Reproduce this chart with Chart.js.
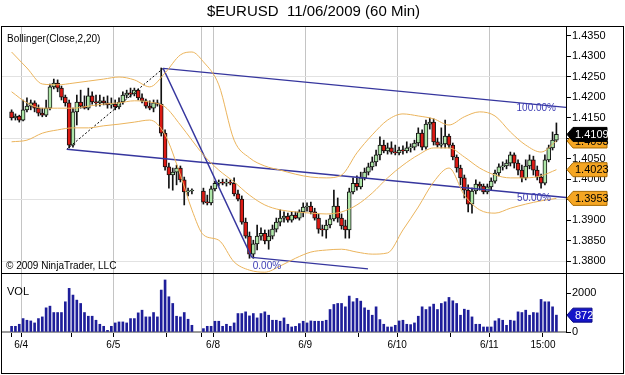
<!DOCTYPE html>
<html>
<head>
<meta charset="utf-8">
<title>$EURUSD 11/06/2009 (60 Min)</title>
<script src="https://cdn.jsdelivr.net/npm/chart.js@4.4.0/dist/chart.umd.min.js"></script>
<style>
  html, body { margin: 0; padding: 0; background: #fff; }
  #wrap { position: relative; width: 625px; height: 375px; overflow: hidden; }
  #price-box { position: absolute; left: 0; top: 0; width: 625px; height: 274px; }
  #vol-box { position: absolute; left: 0; top: 274px; width: 625px; height: 101px; }
  #frame { position: absolute; left: 1px; top: 26px; width: 621px; height: 346px; border: 1px solid #000; pointer-events: none; }
  #divider { position: absolute; left: 1px; top: 273px; width: 623px; height: 1px; background: #000; pointer-events: none; }
</style>
</head>
<body>
<div id="wrap">
  <div id="price-box"><canvas id="price-chart"></canvas></div>
  <div id="vol-box"><canvas id="vol-chart"></canvas></div>
  <div id="frame"></div>
  <div id="divider"></div>
</div>
<script>
// $EURUSD 60 min bars, 6/3 22:00 to 6/11 18:00
// one slot per hour, the first bar sits in slot 2, weekend gap = null

const firstSlot = 2;

const opens = [
  1.4164, 1.4149, 1.4154, 1.4144, 1.4169, 1.4178, 1.4186, 1.4173, 1.4161, 1.4156,
  1.4173, 1.4225, 1.4234, 1.4222, 1.4200, 1.4186, 1.4083, 1.4164, 1.4188, 1.4178,
  1.4173, 1.4203, 1.4188, 1.4186, 1.4191, 1.4186, 1.4181, 1.4183, 1.4176, 1.4188,
  1.4205, 1.4210, 1.4208, 1.4217, 1.4198, 1.4191, 1.4178, 1.4173, 1.4186, 1.4183,
  1.4112, 1.4030, 1.4010, 1.4017, 1.4027, 1.3998, 1.3969, 1.3971, null, null,
  1.3971, 1.3944, 1.3942, 1.3976, 1.3990, 1.3993, 1.3990, 1.3993, 1.3990, 1.3964,
  1.3951, 1.3895, 1.3861, 1.3817, 1.3842, 1.3861, 1.3868, 1.3849, 1.3861, 1.3878,
  1.3895, 1.3905, 1.3910, 1.3900, 1.3912, 1.3905, 1.3920, 1.3932, 1.3934, 1.3920,
  1.3905, 1.3878, 1.3876, 1.3888, 1.3903, 1.3934, 1.3905, 1.3886, 1.3876, 1.3969,
  1.3990, 1.3981, 1.4003, 1.4017, 1.4030, 1.4042, 1.4059, 1.4083, 1.4069, 1.4076,
  1.4066, 1.4064, 1.4071, 1.4069, 1.4076, 1.4078, 1.4088, 1.4112, 1.4078, 1.4134,
  1.4139, 1.4091, 1.4083, 1.4086, 1.4105, 1.4083, 1.4054, 1.4027, 1.4003, 1.3973,
  1.3939, 1.3971, 1.3988, 1.3983, 1.3969, 1.3981, 1.3995, 1.4015, 1.4030, 1.4032,
  1.4039, 1.4059, 1.4039, 1.4022, 1.4003, 1.4032, 1.4047, 1.4022, 1.4005, 1.3990,
  1.4047, 1.4076, 1.4095
];
const highs = [
  1.4169, 1.4159, 1.4156, 1.4193, 1.4198, 1.4193, 1.4191, 1.4181, 1.4173, 1.4193,
  1.4232, 1.4244, 1.4242, 1.4227, 1.4205, 1.4193, 1.4173, 1.4205, 1.4217, 1.4203,
  1.4222, 1.4213, 1.4205, 1.4205, 1.4200, 1.4203, 1.4198, 1.4193, 1.4198, 1.4213,
  1.4217, 1.4222, 1.4222, 1.4220, 1.4208, 1.4195, 1.4191, 1.4193, 1.4193, 1.4271,
  1.4120, 1.4039, 1.4027, 1.4034, 1.4032, 1.4005, 1.3978, 1.3976, null, null,
  1.3978, 1.3961, 1.3983, 1.3995, 1.3998, 1.4000, 1.4000, 1.3998, 1.4003, 1.3973,
  1.3959, 1.3905, 1.3871, 1.3851, 1.3888, 1.3881, 1.3876, 1.3876, 1.3888, 1.3905,
  1.3925, 1.3920, 1.3917, 1.3920, 1.3920, 1.3925, 1.3942, 1.3942, 1.3944, 1.3929,
  1.3915, 1.3888, 1.3900, 1.3912, 1.3973, 1.3954, 1.3915, 1.3900, 1.3978, 1.4003,
  1.4008, 1.4017, 1.4027, 1.4039, 1.4054, 1.4071, 1.4103, 1.4095, 1.4088, 1.4091,
  1.4083, 1.4078, 1.4081, 1.4091, 1.4086, 1.4095, 1.4125, 1.4120, 1.4144, 1.4149,
  1.4147, 1.4100, 1.4125, 1.4144, 1.4110, 1.4088, 1.4059, 1.4034, 1.4010, 1.3986,
  1.3978, 1.3998, 1.3993, 1.3988, 1.3988, 1.4003, 1.4022, 1.4037, 1.4042, 1.4047,
  1.4066, 1.4064, 1.4047, 1.4034, 1.4047, 1.4059, 1.4056, 1.4032, 1.4012, 1.4059,
  1.4083, 1.4115, 1.4137
];
const lows = [
  1.4144, 1.4144, 1.4139, 1.4142, 1.4164, 1.4169, 1.4164, 1.4154, 1.4152, 1.4152,
  1.4169, 1.4220, 1.4213, 1.4193, 1.4178, 1.4076, 1.4078, 1.4132, 1.4173, 1.4171,
  1.4169, 1.4183, 1.4178, 1.4178, 1.4181, 1.4173, 1.4173, 1.4169, 1.4171, 1.4183,
  1.4198, 1.4200, 1.4203, 1.4193, 1.4186, 1.4173, 1.4169, 1.4164, 1.4178, 1.4105,
  1.4022, 1.3978, 1.3973, 1.3986, 1.3993, 1.3937, 1.3959, 1.3964, null, null,
  1.3939, 1.3937, 1.3937, 1.3971, 1.3983, 1.3986, 1.3983, 1.3986, 1.3959, 1.3947,
  1.3890, 1.3856, 1.3807, 1.3807, 1.3827, 1.3851, 1.3842, 1.3829, 1.3854, 1.3871,
  1.3886, 1.3895, 1.3895, 1.3895, 1.3903, 1.3900, 1.3908, 1.3922, 1.3915, 1.3900,
  1.3868, 1.3861, 1.3856, 1.3881, 1.3898, 1.3895, 1.3878, 1.3856, 1.3856, 1.3964,
  1.3973, 1.3976, 1.3998, 1.4010, 1.4022, 1.4032, 1.4047, 1.4064, 1.4061, 1.4061,
  1.4059, 1.4059, 1.4061, 1.4064, 1.4066, 1.4071, 1.4081, 1.4071, 1.4073, 1.4122,
  1.4083, 1.4078, 1.4076, 1.4076, 1.4076, 1.4047, 1.4017, 1.3986, 1.3954, 1.3920,
  1.3917, 1.3964, 1.3973, 1.3964, 1.3964, 1.3973, 1.3990, 1.4008, 1.4022, 1.4025,
  1.4032, 1.4027, 1.4010, 1.3993, 1.3998, 1.4025, 1.4010, 1.3998, 1.3978, 1.3986,
  1.4042, 1.4071, 1.4091
];
const closes = [
  1.4149, 1.4154, 1.4144, 1.4169, 1.4178, 1.4186, 1.4173, 1.4161, 1.4156, 1.4173,
  1.4225, 1.4234, 1.4222, 1.4200, 1.4186, 1.4083, 1.4164, 1.4188, 1.4178, 1.4173,
  1.4203, 1.4188, 1.4186, 1.4191, 1.4186, 1.4181, 1.4183, 1.4176, 1.4188, 1.4205,
  1.4210, 1.4208, 1.4217, 1.4198, 1.4191, 1.4178, 1.4173, 1.4186, 1.4183, 1.4112,
  1.4030, 1.4010, 1.4017, 1.4027, 1.3998, 1.3969, 1.3971, 1.3971, null, null,
  1.3944, 1.3942, 1.3976, 1.3990, 1.3993, 1.3990, 1.3993, 1.3990, 1.3964, 1.3951,
  1.3895, 1.3861, 1.3817, 1.3842, 1.3861, 1.3868, 1.3849, 1.3861, 1.3878, 1.3895,
  1.3905, 1.3910, 1.3900, 1.3912, 1.3905, 1.3920, 1.3932, 1.3934, 1.3920, 1.3905,
  1.3878, 1.3876, 1.3888, 1.3903, 1.3934, 1.3905, 1.3886, 1.3876, 1.3969, 1.3990,
  1.3981, 1.4003, 1.4017, 1.4030, 1.4042, 1.4059, 1.4083, 1.4069, 1.4076, 1.4066,
  1.4064, 1.4071, 1.4069, 1.4076, 1.4078, 1.4088, 1.4112, 1.4078, 1.4134, 1.4139,
  1.4091, 1.4083, 1.4086, 1.4105, 1.4083, 1.4054, 1.4027, 1.4003, 1.3973, 1.3939,
  1.3971, 1.3988, 1.3983, 1.3969, 1.3981, 1.3995, 1.4015, 1.4030, 1.4032, 1.4039,
  1.4059, 1.4039, 1.4022, 1.4003, 1.4032, 1.4047, 1.4022, 1.4005, 1.3990, 1.4047,
  1.4076, 1.4095, 1.4109
];
const volumes = [
  295, 295, 400, 694, 608, 573, 469, 694, 781, 1250,
  1337, 1007, 1007, 1007, 1562, 2257, 1910, 1649, 1476, 1007,
  816, 816, 608, 400, 295, 87, 295, 469, 521, 521,
  469, 694, 694, 990, 1128, 781, 781, 1007, 781, 2170,
  2691, 1823, 1476, 816, 781, 1007, 660, 347, null, null,
  174, 295, 295, 556, 556, 295, 400, 295, 469, 955,
  955, 1042, 833, 955, 729, 955, 1042, 868, 608, 608,
  556, 729, 400, 260, 295, 434, 556, 469, 573, 556,
  556, 556, 608, 1163, 1424, 1476, 1476, 1302, 1858, 1562,
  1736, 1597, 1250, 1128, 868, 1302, 642, 400, 260, 260,
  347, 573, 608, 400, 382, 469, 816, 1302, 1163, 1302,
  1441, 1163, 1476, 1562, 1788, 1614, 1476, 868, 1180, 1128,
  781, 400, 400, 260, 260, 260, 573, 694, 608, 347,
  608, 573, 1042, 1007, 1128, 868, 1007, 990, 1684, 1562,
  1562, 1302, 872
];

// Bollinger(Close,2,20) every few slots
const bandSlots = [2, 6, 10, 14, 18, 22, 26, 30, 34, 38, 42, 46, 49, 52, 56, 60, 64, 68, 72,
  76, 80, 84, 88, 92, 96, 100, 104, 108, 112, 116, 120, 124, 128, 132, 136, 140, 144];
const upperBand = [1.4310, 1.4271, 1.4232, 1.4230, 1.4234, 1.4239, 1.4244, 1.4249, 1.4242, 1.4225,
  1.4259, 1.4303, 1.4310, 1.4286, 1.4230, 1.4095, 1.4052, 1.4032, 1.4022, 1.4012,
  1.4005, 1.4003, 1.4010, 1.4064, 1.4108, 1.4144, 1.4159, 1.4154, 1.4147, 1.4132,
  1.4152, 1.4164, 1.4154, 1.4115, 1.4083, 1.4066, 1.4093];
const middleBand = [1.4213, 1.4186, 1.4173, 1.4173, 1.4173, 1.4178, 1.4183, 1.4186, 1.4191, 1.4188,
  1.4176, 1.4132, 1.4095, 1.4059, 1.4022, 1.3993, 1.3961, 1.3937, 1.3925, 1.3920,
  1.3917, 1.3915, 1.3920, 1.3937, 1.3966, 1.4003, 1.4034, 1.4059, 1.4076, 1.4076,
  1.4054, 1.4027, 1.4010, 1.4003, 1.4003, 1.4008, 1.4023];
const lowerBand = [1.4091, 1.4095, 1.4112, 1.4120, 1.4125, 1.4125, 1.4130, 1.4134, 1.4139, 1.4144,
  1.4108, 1.4010, 1.3925, 1.3864, 1.3851, 1.3798, 1.3778, 1.3773, 1.3788, 1.3807,
  1.3822, 1.3827, 1.3829, 1.3822, 1.3817, 1.3820, 1.3876, 1.3932, 1.3993, 1.4027,
  1.3961, 1.3925, 1.3917, 1.3929, 1.3939, 1.3947, 1.3953];

// trend channel drawn on the chart: [slot, price] end points
const fork100 = [[41.5, 1.4270], [146.5, 1.4175]];
const fork50 = [[16.4, 1.4073], [146.5, 1.3955]];
const fork0 = [[64.6, 1.3809], [94.9, 1.3781]];
const forkHandle = [[41.5, 1.4270], [64.6, 1.3809]];
const forkStem = [[16.4, 1.4073], [41.5, 1.4270]];

// axis ticks
const priceTicks = [1.380, 1.385, 1.390, 1.395, 1.400, 1.405, 1.410, 1.415, 1.420, 1.425, 1.430, 1.435];
const priceGrid = [1.380, 1.395, 1.410, 1.425];
const volumeTicks = [0, 2000];
const timeTickSlots = [2, 4.5, 17.5, 28.5, 42.5, 51.5, 54.5, 68.5, 78.5, 92.5, 102.5, 116.5, 126.5, 140.5];
const timeTickLabels = ['', '6/4', '', '6/5', '', '', '6/8', '', '6/9', '', '6/10', '', '6/11', '15:00'];
const dayLineSlots = [4.5, 28.5, 51.5, 54.5, 78.5, 102.5, 126.5];

// colours
const upFill = '#aee6a8';
const downFill = '#dc1a14';
const bandColor = '#ebb45c';
const forkColor = '#36369e';
const volColor = '#1e1e9a';
const gridGray = '#c4c4c4';

Chart.defaults.font.family = '"Liberation Sans", Arial, sans-serif';
Chart.defaults.color = '#000';
Chart.defaults.animation = false;

// Build chart points from the arrays
const wicks = [];
const bodies = [];
const bodyColors = [];
const volumeBars = [];
for (let i = 0; i < opens.length; i++) {
  if (opens[i] === null) continue;
  const x = firstSlot + i;
  wicks.push({ x, y: [lows[i], highs[i]] });
  bodies.push({ x, y: [opens[i], closes[i]] });
  bodyColors.push(closes[i] >= opens[i] ? upFill : downFill);
  volumeBars.push({ x, y: volumes[i] });
}

function bandPoints(values) {
  return values.map((v, i) => ({ x: bandSlots[i], y: v }));
}
function segPoints(seg) {
  return seg.map(p => ({ x: p[0], y: p[1] }));
}
function lineSet(data, color, width, extra) {
  return Object.assign({
    type: 'line', data, borderColor: color, borderWidth: width,
    pointRadius: 0, fill: false, order: 0
  }, extra || {});
}
function near(list, v) {
  return list.some(t => Math.abs(t - v) < 1e-6);
}
// keep the plot boxes exactly where the layout puts them
function noPad(scale) {
  scale.paddingTop = 0; scale.paddingBottom = 0;
  scale.paddingLeft = 0; scale.paddingRight = 0;
}

// Right hand price / value tag
function drawTag(ctx, left, yPix, text, fill, edge, ink, width) {
  const h = 14, tip = 6;
  ctx.beginPath();
  ctx.moveTo(left + 1, yPix);
  ctx.lineTo(left + 1 + tip, yPix - h / 2);
  ctx.lineTo(left + width, yPix - h / 2);
  ctx.lineTo(left + width, yPix + h / 2);
  ctx.lineTo(left + 1 + tip, yPix + h / 2);
  ctx.closePath();
  ctx.fillStyle = fill;
  ctx.fill();
  ctx.strokeStyle = edge;
  ctx.lineWidth = 1;
  ctx.stroke();
  ctx.fillStyle = ink;
  ctx.font = '11px "Liberation Sans", Arial, sans-serif';
  ctx.textAlign = 'left';
  ctx.textBaseline = 'middle';
  ctx.fillText(text, left + tip + 3, yPix + 0.5);
}

const priceNotes = {
  id: 'priceNotes',
  afterDraw(chart) {
    const { ctx, scales: { x, y } } = chart;
    ctx.save();
    ctx.font = '10px "Liberation Sans", Arial, sans-serif';
    ctx.fillStyle = '#000';
    ctx.textAlign = 'left';
    ctx.textBaseline = 'alphabetic';
    ctx.fillText('Bollinger(Close,2,20)', 7, 42);
    ctx.fillText('\u00a9 2009 NinjaTrader, LLC', 6, 269);

    // channel level labels
    ctx.fillStyle = '#3c3cb4';
    ctx.textBaseline = 'middle';
    ctx.textAlign = 'right';
    ctx.fillText('100.00%', x.getPixelForValue(fork100[1][0]) - 10, y.getPixelForValue(fork100[1][1]) + 1);
    ctx.fillText('50.00%', x.getPixelForValue(fork50[1][0]) - 15, y.getPixelForValue(fork50[1][1]) + 1);
    ctx.textAlign = 'left';
    ctx.fillText('0.00%', x.getPixelForValue(fork0[0][0]) + 1, y.getPixelForValue(fork0[0][1]) + 9);

    // last values on the price axis
    const axisX = chart.chartArea.right;
    const last = bandSlots.length - 1;
    drawTag(ctx, axisX, y.getPixelForValue(upperBand[last]), upperBand[last].toFixed(4), '#f5a623', '#a86a00', '#000', 41);
    drawTag(ctx, axisX, y.getPixelForValue(middleBand[last]), middleBand[last].toFixed(4), '#f5a623', '#a86a00', '#000', 41);
    drawTag(ctx, axisX, y.getPixelForValue(lowerBand[last]), lowerBand[last].toFixed(4), '#f5a623', '#a86a00', '#000', 41);
    const lastClose = closes[closes.length - 1];
    drawTag(ctx, axisX, y.getPixelForValue(lastClose), lastClose.toFixed(4), '#000', '#000', '#fff', 41);
    ctx.restore();
  }
};

const volumeNotes = {
  id: 'volumeNotes',
  afterDraw(chart) {
    const { ctx, scales: { y } } = chart;
    ctx.save();
    ctx.font = '11px "Liberation Sans", Arial, sans-serif';
    ctx.fillStyle = '#000';
    ctx.textAlign = 'left';
    ctx.textBaseline = 'alphabetic';
    ctx.fillText('VOL', 7, 21);
    const lastVol = volumes[volumes.length - 1];
    drawTag(ctx, chart.chartArea.right, y.getPixelForValue(lastVol), String(lastVol), '#1414c8', '#0a0a80', '#fff', 26);
    ctx.restore();
  }
};

// Price panel
const priceChart = new Chart(document.getElementById('price-chart'), {
  type: 'bar',
  data: {
    datasets: [
      lineSet(bandPoints(upperBand), bandColor, 1, { cubicInterpolationMode: 'monotone' }),
      lineSet(bandPoints(middleBand), bandColor, 1, { cubicInterpolationMode: 'monotone' }),
      lineSet(bandPoints(lowerBand), bandColor, 1, { cubicInterpolationMode: 'monotone' }),
      lineSet(segPoints(fork100), forkColor, 1.4),
      lineSet(segPoints(fork50), forkColor, 1.4),
      lineSet(segPoints(fork0), forkColor, 1.4),
      lineSet(segPoints(forkHandle), forkColor, 1.4),
      lineSet(segPoints(forkStem), '#000', 1, { borderDash: [2, 2] }),
      {
        label: 'Body', data: bodies, backgroundColor: bodyColors,
        borderColor: '#111', borderWidth: 1, borderSkipped: false,
        barThickness: 4, grouped: false, minBarLength: 1, order: 1
      },
      {
        label: 'Wick', data: wicks, backgroundColor: '#111',
        barThickness: 1, grouped: false, order: 2
      }
    ]
  },
  options: {
    responsive: true,
    maintainAspectRatio: false,
    devicePixelRatio: 1,
    layout: { padding: { left: 2, right: 0, top: 0, bottom: 1 } },
    plugins: {
      legend: { display: false },
      tooltip: { enabled: false },
      title: {
        display: true,
        text: '$EURUSD  11/06/2009 (60 Min)',
        color: '#000',
        font: { size: 15, weight: 'normal' },
        padding: { top: 3, bottom: 6 }
      }
    },
    scales: {
      x: {
        type: 'linear',
        min: -0.5,
        max: 146.5,
        offset: false,
        afterBuildTicks: axis => { axis.ticks = dayLineSlots.map(v => ({ value: v })); },
        afterFit: s => { s.height = 0; noPad(s); },
        ticks: { display: false },
        border: { display: false },
        grid: { color: gridGray, lineWidth: 1, drawTicks: false, offset: false }
      },
      y: {
        position: 'right',
        min: 1.3771,
        max: 1.4371,
        afterBuildTicks: axis => { axis.ticks = priceTicks.map(v => ({ value: v })); },
        afterFit: s => { s.width = 59; noPad(s); },
        ticks: {
          padding: 1,
          font: { size: 11 },
          color: '#000',
          callback: v => v.toFixed(4)
        },
        border: { display: true, color: '#000', width: 1 },
        grid: {
          color: ctx => (ctx.tick && near(priceGrid, ctx.tick.value)) ? '#e2e2e2' : 'rgba(0,0,0,0)',
          tickColor: '#000',
          tickLength: 5
        }
      }
    }
  },
  plugins: [priceNotes]
});

// Volume panel
const volumeChart = new Chart(document.getElementById('vol-chart'), {
  type: 'bar',
  data: {
    datasets: [{
      label: 'VOL', data: volumeBars, backgroundColor: volColor,
      barThickness: 2, grouped: false
    }]
  },
  options: {
    responsive: true,
    maintainAspectRatio: false,
    devicePixelRatio: 1,
    layout: { padding: { left: 2, right: 0, top: 0, bottom: 0 } },
    plugins: {
      legend: { display: false },
      tooltip: { enabled: false }
    },
    scales: {
      x: {
        type: 'linear',
        min: -0.5,
        max: 146.5,
        offset: false,
        afterBuildTicks: axis => { axis.ticks = timeTickSlots.map(v => ({ value: v })); },
        afterFit: s => { s.height = 43; noPad(s); },
        ticks: {
          autoSkip: false,
          maxRotation: 0,
          padding: 2,
          font: { size: 10 },
          color: '#000',
          callback: v => {
            const i = timeTickSlots.indexOf(v);
            return i >= 0 ? timeTickLabels[i] : '';
          }
        },
        border: { display: true, color: '#9a9a9a', width: 2 },
        grid: {
          color: ctx => (ctx.tick && near(dayLineSlots, ctx.tick.value)) ? gridGray : 'rgba(0,0,0,0)',
          tickColor: '#000',
          tickLength: 5,
          offset: false
        }
      },
      y: {
        position: 'right',
        min: 0,
        max: 3000,
        afterBuildTicks: axis => { axis.ticks = volumeTicks.map(v => ({ value: v })); },
        afterFit: s => { s.width = 59; noPad(s); },
        ticks: { padding: 1, font: { size: 11 }, color: '#000', callback: v => String(v) },
        border: { display: true, color: '#000', width: 1 },
        grid: { drawOnChartArea: false, tickColor: '#000', tickLength: 5 }
      }
    }
  },
  plugins: [volumeNotes]
});
</script>
</body>
</html>
